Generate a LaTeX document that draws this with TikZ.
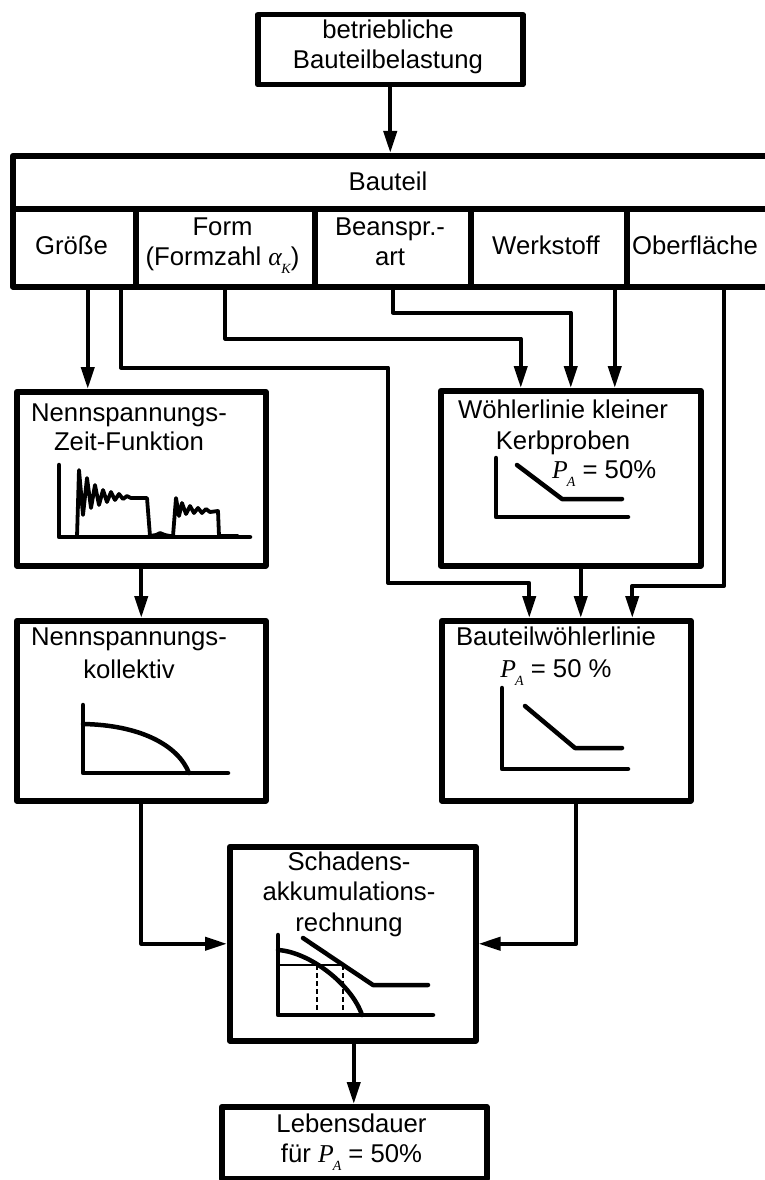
\documentclass[tikz,border=0pt]{standalone}
\usepackage{fontspec}
\setmainfont{Liberation Sans}
\newfontfamily\tnr{Liberation Serif}
\usetikzlibrary{arrows.meta}
\newcommand\mlines[1]{\begin{tabular}[t]{@{}c@{}}#1\end{tabular}}
\newcommand\PA{{\tnr\itshape P\kern-1pt\raisebox{-0.32em}{\fontsize{14}{14}\selectfont A}}}
\newcommand\aK{{\tnr\itshape \char"03B1\kern-0.5pt\raisebox{-0.32em}{\fontsize{14}{14}\selectfont K}}}
\begin{document}
\begin{tikzpicture}[x=1pt,y=-1pt,
  box/.style={draw, line width=5.5pt, rectangle, inner sep=0pt, line join=round, anchor=north west},
  lbl/.style={font=\fontsize{25.7}{30.5}\selectfont, inner sep=0pt, anchor=base},
  conn/.style={line width=4pt, line join=round, -{Triangle[width=13pt,length=22pt]}},
  graph/.style={line width=4.5pt, line cap=round, line join=round},
]
\useasboundingbox (0,0) rectangle (765,1180);

% boxes
\node[box, minimum width=265, minimum height=70] (top) at (255,12) {};
\node[box, minimum width=790, minimum height=53] (bauteil) at (10,153) {};
\node[box, minimum width=123, minimum height=78] (groesse) at (10,206) {};
\node[box, minimum width=179, minimum height=78] (form) at (133,206) {};
\node[box, minimum width=156, minimum height=78] (beanspr) at (312,206) {};
\node[box, minimum width=156, minimum height=78] (werkstoff) at (468,206) {};
\node[box, minimum width=176, minimum height=78] (oberfl) at (624,206) {};
\node[box, minimum width=249, minimum height=174] (nzf) at (14,389) {};
\node[box, minimum width=260, minimum height=175] (wkk) at (438,388) {};
\node[box, minimum width=249, minimum height=180] (nk) at (14,618) {};
\node[box, minimum width=249, minimum height=180] (bwl) at (439,618) {};
\node[box, minimum width=246, minimum height=194] (sch) at (227,844) {};
\node[box, minimum width=265, minimum height=72] (leb) at (219,1104) {};

% labels
\node[lbl] (ttop) at (388,39) {\mlines{betriebliche\\[-1pt]Bauteilbelastung}};
\node[lbl] (tbau) at (388,190) {Bauteil};
\node[lbl] (tgr) at (71.5,254) {Größe};
\node[lbl] (tfo) at (222.5,235) {\mlines{Form\\(Formzahl \aK)}};
\node[lbl] (tbe) at (390,235) {\mlines{Beanspr.-\\art}};
\node[lbl] (twe) at (546,254) {Werkstoff};
\node[lbl] (tob) at (695,254) {Oberfläche};
\node[lbl] (tnzf) at (129,421) {\mlines{Nennspannungs-\\[-1pt]Zeit-Funktion}};
\node[lbl] (twkk) at (563,418) {\mlines{Wöhlerlinie kleiner\\[1pt]Kerbproben}};
\node[lbl, anchor=base west] (twkkp) at (552,478) {\PA{} = 50\%};
\node[lbl] (tnk) at (129,645) {\mlines{Nennspannungs-\\[3pt]kollektiv}};
\node[lbl] (tbwl) at (556,645) {\mlines{Bauteilwöhlerlinie\\[2pt]\PA{} = 50 \%}};
\node[lbl] (tsch) at (349,870) {\mlines{Schadens-\\akkumulations-\\rechnung}};
\node[lbl] (tleb) at (351.5,1132) {\mlines{Lebensdauer\\für \PA{} = 50\%}};

% connectors
\draw[conn] (top.south) -- (top.south |- bauteil.north);
\draw[conn] ([xshift=13.5]groesse.south) -- ([xshift=13.5]groesse.south |- nzf.north);
\draw[conn] ([xshift=46.5]groesse.south) -- ++(0,78) -| (388,583) -| ([xshift=-37]bwl.north);
\draw[conn] (form.south) -- ++(0,49) -| ([xshift=-50]wkk.north);
\draw[conn] (beanspr.south) -- ++(0,23) -| (wkk.north);
\draw[conn] ([xshift=66]werkstoff.south) -- ([xshift=66]werkstoff.south |- wkk.north);
\draw[conn] (724,284) -- (724,586) -| ([xshift=66]bwl.north);
\draw[conn] ([xshift=10]wkk.south) -- ([xshift=10]wkk.south |- bwl.north);
\draw[conn] (nzf.south) -- (nk.north);
\draw[conn] (nk.south) |- (sch.west);
\draw[conn] ([xshift=10]bwl.south) |- (sch.east);
\draw[conn] ([xshift=1]sch.south) -- ([xshift=1]sch.south |- leb.north);

% graph: Nennspannungs-Zeit-Funktion
\draw[graph] (59,465) -- (59,537) -- (250,537);
\draw[graph, line width=3.8pt] (77,537) -- (79,470) -- (83,515) -- (87,478) -- (91,508) -- (95,485) -- (99,505) -- (103,490) -- (107,502) -- (111,492) -- (115,500) -- (119,494) -- (123,499) -- (127,496) -- (131,498) -- (147,498) -- (150,536) -- (156,535) -- (160,533) -- (165,535) -- (170,536) -- (173,536) -- (176,498) -- (179,516) -- (182,503) -- (186,514) -- (190,506) -- (194,513) -- (198,508) -- (202,513) -- (206,509) -- (210,512) -- (218,511) -- (219,536) -- (238,536);

% graph: Woehlerlinie kleiner Kerbproben
\draw[graph] (496,458) -- (496,517) -- (628,517);
\draw[graph] (517,465) -- (562,499) -- (622,499);

% graph: Nennspannungskollektiv
\draw[graph] (83,705) -- (83,773) -- (228,773);
\draw[graph] (83,724) .. controls (140,725) and (178,745) .. (189,773);

% graph: Bauteilwoehlerlinie
\draw[graph] (502,688) -- (502,769) -- (628,769);
\draw[graph] (525,706) -- (575,748) -- (622,748);

% graph: Schadensakkumulation
\draw[graph] (278,935) -- (278,1015) -- (433,1015);
\draw[graph] (303,938) -- (373,985) -- (428,985);
\draw[graph] (278,950) .. controls (310,952) and (352,985) .. (362,1015);
\draw[line width=2pt] (278,965) -- (343,965);
\draw[line width=2.5pt, dash pattern=on 5pt off 3pt] (317,965) -- (317,1015) (343,965) -- (343,1015);
\end{tikzpicture}
\end{document}
